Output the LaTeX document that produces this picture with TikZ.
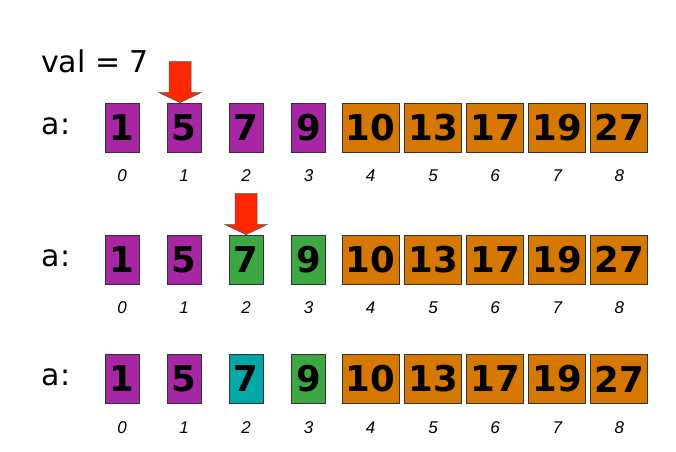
\documentclass[tikz,border=0pt]{standalone}
\usepackage{fontspec}
\newfontfamily\idxfont{Liberation Sans}
\newfontfamily\lblfont{DejaVu Sans}
\usetikzlibrary{calc}
\definecolor{cpurple}{HTML}{A626A4}
\definecolor{corange}{HTML}{D67800}
\definecolor{cgreen}{HTML}{3DA843}
\definecolor{cteal}{HTML}{00A8A8}
\definecolor{cred}{HTML}{FF2600}
\begin{document}
\begin{tikzpicture}[x=1pt,y=-1pt,
  cell/.style={draw=black!80, line width=0.8pt, minimum height=49pt, inner sep=0pt,
    font=\fontsize{35.5}{36}\selectfont\lblfont\bfseries},
  small/.style={cell, minimum width=34pt},
  wide/.style={cell, minimum width=57pt, fill=corange},
  idx/.style={anchor=base, inner sep=0pt, font=\fontsize{17}{17}\selectfont\idxfont\itshape},
  lbl/.style={anchor=base west, inner sep=0pt, font=\fontsize{30}{30}\selectfont\lblfont},
  ptr/.style={fill=cred, draw=black!70, line width=0.5pt}]
\useasboundingbox (0,0) rectangle (676,451);
\node[lbl] (val) at (41,72) {val = 7};
% rows
\foreach \r/\y/\ca/\cb/\cc/\cd in {1/127.5/cpurple/cpurple/cpurple/cpurple,
                                   2/259.5/cpurple/cpurple/cgreen/cgreen,
                                   3/379/cpurple/cpurple/cteal/cgreen}{
  \node[lbl] (a\r) at (41.5,\y+6.5) {a:};
  \node[small, fill=\ca] (r\r b0) at (122,\y) {1};
  \node[small, fill=\cb] (r\r b1) at (184,\y) {5};
  \node[small, fill=\cc] (r\r b2) at (246,\y) {7};
  \node[small, fill=\cd] (r\r b3) at (308.5,\y) {9};
  \node[wide] (r\r b4) at (370.5,\y) {10};
  \node[wide] (r\r b5) at (433,\y) {13};
  \node[wide] (r\r b6) at (495,\y) {17};
  \node[wide] (r\r b7) at (557.3,\y) {19};
  \node[wide] (r\r b8) at (619.3,\y) {27};
  \foreach \i in {0,...,8}{
    \node[idx] (r\r i\i) at ($(r\r b\i.center)+(0,54)$) {\i};
  }
}
% pointer arrows
\coordinate (p1) at ($(r1b1.north)+(-4,0)$);
\draw[ptr] (p1) -- ++(-21,-10) -- ++(10,0) -- ++(0,-31) -- ++(22,0) -- ++(0,31) -- ++(10,0) -- cycle;
\coordinate (p2) at ($(r2b2.north)+(0,0)$);
\draw[ptr] (p2) -- ++(-21,-10) -- ++(10,0) -- ++(0,-31) -- ++(22,0) -- ++(0,31) -- ++(10,0) -- cycle;
\end{tikzpicture}
\end{document}
